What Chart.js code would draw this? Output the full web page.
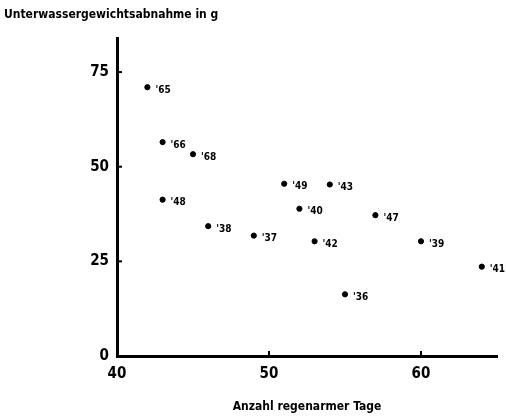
<!DOCTYPE html>
<html>
<head>
<meta charset="utf-8">
<script src="https://cdn.jsdelivr.net/npm/chart.js@4/dist/chart.umd.min.js"></script>
<style>
  html, body { margin: 0; padding: 0; background: #fff; }
  #wrap { width: 506px; height: 417px; }
</style>
</head>
<body>
<div id="wrap"><canvas id="scatterChart"></canvas></div>
<script>
// data
const days = [42, 43, 45, 43, 46, 49, 51, 54, 52, 57, 53, 60, 64, 55];
const loss = [71, 56.5, 53.3, 41.3, 34.3, 31.8, 45.5, 45.3, 38.9, 37.2, 30.3, 30.3, 23.6, 16.3];
const years = ["65", "66", "68", "48", "38", "37", "49", "43", "40", "47", "42", "39", "41", "36"];
const xTicks = [40, 50, 60];
const yTicks = [0, 25, 50, 75];

const FONT = "'DejaVu Sans Condensed', 'DejaVu Sans', sans-serif";

const points = days.map(function (d, i) {
    return { x: d, y: loss[i] };
});

// little tick marks inside the axes + year labels next to the dots
const extras = {
    id: "extras",
    afterDatasetsDraw(chart) {
        const ctx = chart.ctx;
        const xs = chart.scales.x, ys = chart.scales.y;
        const area = chart.chartArea;
        ctx.save();
        ctx.strokeStyle = "#000";
        ctx.lineWidth = 2;
        yTicks.forEach(function (v) {
            const py = ys.getPixelForValue(v);
            ctx.beginPath();
            ctx.moveTo(area.left, py);
            ctx.lineTo(area.left + 5, py);
            ctx.stroke();
        });
        xTicks.forEach(function (v) {
            const px = xs.getPixelForValue(v);
            ctx.beginPath();
            ctx.moveTo(px, area.bottom);
            ctx.lineTo(px, area.bottom - 5);
            ctx.stroke();
        });

        ctx.fillStyle = "#000";
        ctx.font = "bold 10px " + FONT;
        ctx.textBaseline = "middle";
        ctx.textAlign = "left";
        chart.getDatasetMeta(0).data.forEach(function (el, i) {
            ctx.fillText("'" + years[i], el.x + 8, el.y + 3);
        });
        ctx.restore();
    }
};

const config = {
    type: "scatter",
    data: {
        datasets: [{
            data: points,
            backgroundColor: "#000",
            borderColor: "#000",
            pointRadius: 2.6,
            pointHoverRadius: 2.6
        }]
    },
    options: {
        responsive: true,
        maintainAspectRatio: false,
        animation: false,
        layout: { padding: { left: 4, right: 9, top: 0, bottom: 0 } },
        plugins: {
            legend: { display: false },
            tooltip: { enabled: false },
            title: {
                display: true,
                text: "Unterwassergewichtsabnahme in g",
                align: "start",
                color: "#000",
                font: { family: FONT, size: 12, weight: "bold", lineHeight: 1.2 },
                padding: { top: 8, bottom: 15.6 }
            }
        },
        scales: {
            x: {
                type: "linear",
                min: 40,
                max: 65,
                afterBuildTicks(scale) {
                    scale.ticks = xTicks.map(function (v) { return { value: v }; });
                },
                afterFit(scale) { scale.height = 61; },
                grid: { display: true, drawOnChartArea: false, drawTicks: false },
                border: { display: true, color: "#000", width: 3 },
                ticks: {
                    color: "#000",
                    padding: 9,
                    font: { family: FONT, size: 15, weight: "bold" }
                },
                title: {
                    display: true,
                    text: "Anzahl regenarmer Tage",
                    color: "#000",
                    font: { family: FONT, size: 12, weight: "bold" },
                    padding: { top: 0, bottom: 3 }
                }
            },
            y: {
                type: "linear",
                min: 0,
                max: 84,
                afterBuildTicks(scale) {
                    scale.ticks = yTicks.map(function (v) { return { value: v }; });
                },
                afterFit(scale) { scale.width = 113; },
                grid: { display: true, drawOnChartArea: false, drawTicks: false },
                border: { display: true, color: "#000", width: 3 },
                ticks: {
                    color: "#000",
                    padding: 8,
                    font: { family: FONT, size: 15, weight: "bold" }
                }
            }
        }
    },
    plugins: [extras]
};

function createScatterChart() {
    const canvas = document.getElementById("scatterChart");
    if (canvas) {
        new Chart(canvas, config);
    }
}

window.addEventListener("load", createScatterChart);
</script>
</body>
</html>
